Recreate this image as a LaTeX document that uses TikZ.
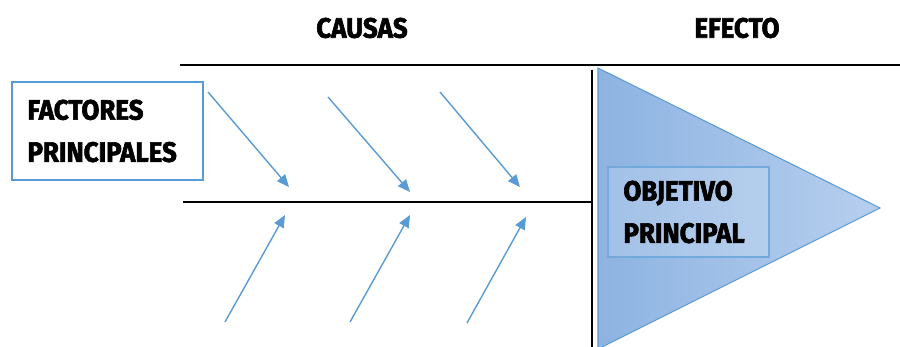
\documentclass[tikz,border=0pt]{standalone}
\usepackage{fontspec}
\newfontfamily\labelfont{Fira Sans}[FakeStretch=0.92, FakeBold=2.2]
\usetikzlibrary{arrows.meta}
\definecolor{boneblue}{HTML}{5B9BD5}
\definecolor{headdark}{HTML}{8DB3E2}
\definecolor{headlight}{HTML}{B7CFEE}
\tikzset{
  label text/.style={font=\labelfont\bfseries\fontsize{16}{24}\selectfont, align=left},
  factor box/.style={draw=boneblue, line width=0.8pt, fill=white, inner sep=0pt,
    minimum width=3.82cm, minimum height=1.96cm, text width=3.2cm},
  goal box/.style={draw=boneblue!85, line width=0.6pt, fill=white, fill opacity=0.18,
    text opacity=1, inner sep=0pt, minimum width=3.22cm, minimum height=1.8cm, text width=2.6cm},
  bone/.style={line width=1.6pt, black},
  rib/.style={boneblue, line width=0.8pt, -{Triangle[length=7pt, width=6pt]}}
}
\begin{document}
\begin{tikzpicture}[x=0.2mm, y=-0.2mm]
      \useasboundingbox (0,0) rectangle (900,347);

      % head of the fish
      \shade[left color=headdark, right color=headlight, draw=boneblue, line width=0.6pt]
        (598,68) -- (880,208) -- (598,349) -- cycle;

      % frame and spine
      \draw[bone] (180,65) -- (900,65);
      \draw[bone] (183,202) -- (591,202);
      \draw[bone] (592,70) -- (592,349);

      % headers
      \node[label text] (causas) at (362,28) {CAUSAS};
      \node[label text] (efecto) at (737,28) {EFECTO};

      % boxes
      \node[factor box, label text] (factores) at (107.5,131) {FACTORES\\PRINCIPALES};
      \node[goal box, label text] (objetivo) at (688.5,212) {OBJETIVO\\PRINCIPAL};

      % causes above and below the spine
      \foreach \i/\xs/\ys/\xe/\ye in {1/208/92/289/187, 2/328/97/410/192, 3/440/92/520/187}{
        \coordinate (up\i s) at (\xs,\ys);
        \coordinate (up\i e) at (\xe,\ye);
        \draw[rib] (up\i s) -- (up\i e);
      }
      \foreach \i/\xs/\ys/\xe/\ye in {1/225/322/285/215, 2/350/322/410/215, 3/467/323/526/217}{
        \coordinate (lo\i s) at (\xs,\ys);
        \coordinate (lo\i e) at (\xe,\ye);
        \draw[rib] (lo\i s) -- (lo\i e);
      }
    \end{tikzpicture}
\end{document}
